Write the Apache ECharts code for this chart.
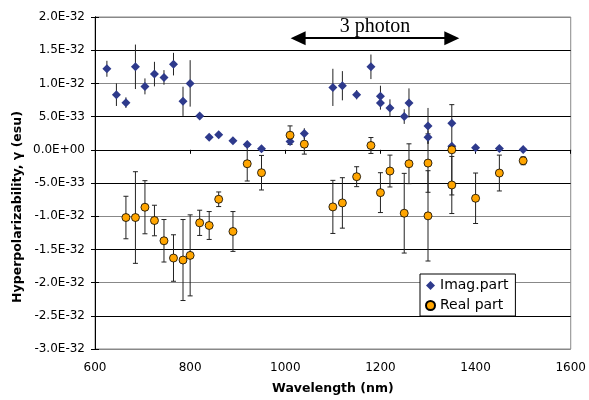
<!DOCTYPE html>
<html>
<head>
<meta charset="utf-8">
<script src="https://cdn.jsdelivr.net/npm/echarts@6/dist/echarts.min.js"></script>
<style>html,body{margin:0;padding:0;background:#fff}#c{width:589px;height:400px}</style>
</head>
<body>
<div id="c"></div>
<script>
// Values in units of 1e-33 esu
const imagX   = [625, 645, 665, 685, 705, 725, 745, 765, 785, 800, 820, 840, 860, 890, 920, 950, 1010, 1040, 1100, 1120, 1150, 1180, 1200, 1200, 1220, 1250, 1260, 1300, 1300, 1350, 1350, 1400, 1450, 1500];
const imagY   = [12.2, 8.3, 7.1, 12.5, 9.55, 11.4, 10.9, 12.9, 7.3, 10.0, 5.1, 1.9, 2.25, 1.35, 0.8, 0.15, 1.25, 2.45, 9.4, 9.65, 8.3, 12.5, 8.05, 7.05, 6.3, 5.0, 7.05, 3.6, 1.9, 4.0, 0.55, 0.3, 0.2, 0.05];
const imagErr = [1.2, 1.7, 0.8, 3.35, 1.2, 1.85, 1.1, 1.7, 2.2, 3.5, 0, 0, 0, 0, 0, 0, 0.4, 0.8, 2.8, 2.2, 0.7, 1.85, 1.6, 1.0, 1.3, 1.1, 2.2, 2.7, 1.0, 0, 0.5, 0, 0, 0];

const realX   = [665, 685, 705, 725, 745, 765, 785, 800, 820, 840, 860, 890, 920, 950, 1010, 1040, 1100, 1120, 1150, 1180, 1200, 1220, 1250, 1260, 1300, 1300, 1350, 1350, 1400, 1450, 1500];
const realY   = [-10.2, -10.2, -8.65, -10.65, -13.7, -16.3, -16.6, -15.9, -11.0, -11.4, -7.45, -12.3, -2.1, -3.45, 2.2, 0.85, -8.6, -8.0, -4.05, 0.65, -6.45, -3.2, -9.55, -2.1, -2.0, -9.95, 0.0, -5.3, -7.3, -3.5, -1.65];
const realErr = [3.2, 6.9, 4.0, 2.3, 3.2, 3.5, 6.1, 6.1, 1.9, 2.1, 1.1, 3.0, 2.6, 2.6, 1.4, 1.5, 4.0, 3.8, 1.5, 1.2, 3.0, 2.4, 6.0, 3.0, 4.4, 6.8, 6.8, 4.3, 3.8, 2.7, 0.6];

const seriesNames = ['Imag.part', 'Real part'];
const xTicks = {min: 600, max: 1600, step: 200};
const yTicks = {min: -30, max: 20, step: 5};   // x 1e-33
const arrowSpan = [1027, 1350];
const arrowLevel = 16.8;
const arrowText = '3 photon';
const xTitle = 'Wavelength (nm)';
const yTitle = 'Hyperpolarizability, \u03b3 (esu)';

function fmtE(v) {
  const s = (v * 1e-33).toExponential(1).toUpperCase();
  const [m, e] = s.split('E');
  const sign = e[0] === '-' ? '-' : '+';
  const digits = e.replace(/[+-]/, '').padStart(2, '0');
  return m + 'E' + sign + digits;
}

function errData(xs, ys, es) {
  const out = [];
  xs.forEach((x, i) => { if (es[i] > 0) out.push([x, ys[i] - es[i], ys[i] + es[i]]); });
  return out;
}

function errRender(cap) {
  return function (params, api) {
    const x = api.value(0), lo = api.value(1), hi = api.value(2);
    const a = api.coord([x, hi]), b = api.coord([x, lo]);
    const st = {stroke: '#222', lineWidth: 1};
    const ch = [{type: 'line', shape: {x1: a[0], y1: a[1], x2: b[0], y2: b[1]}, style: st}];
    if (cap) {
      ch.push({type: 'line', shape: {x1: a[0] - 2.5, y1: a[1], x2: a[0] + 2.5, y2: a[1]}, style: st});
      ch.push({type: 'line', shape: {x1: b[0] - 2.5, y1: b[1], x2: b[0] + 2.5, y2: b[1]}, style: st});
    }
    return {type: 'group', children: ch};
  };
}

const font = 'DejaVu Sans';
const chart = echarts.init(document.getElementById('c'), null, {renderer: 'canvas'});
chart.setOption({
  animation: false,
  backgroundColor: '#fff',
  grid: {left: 95, right: 17, top: 17, bottom: 48, show: true, borderColor: '#888', borderWidth: 1},
  xAxis: {
    type: 'value', min: xTicks.min, max: xTicks.max, interval: xTicks.step,
    name: xTitle, nameLocation: 'middle', nameGap: 33,
    nameTextStyle: {fontFamily: font, fontSize: 12.5, fontWeight: 'bold', color: '#000'},
    axisLine: {show: true, lineStyle: {color: '#000', width: 1}},
    axisTick: {show: true, inside: false, length: 4, lineStyle: {color: '#000'}},
    axisLabel: {fontFamily: font, fontSize: 12, color: '#000', margin: 13, formatter: v => String(v)},
    splitLine: {show: false}
  },
  yAxis: [{
    type: 'value', min: yTicks.min, max: yTicks.max, interval: yTicks.step,
    axisLine: {show: true, lineStyle: {color: '#000', width: 1}},
    axisTick: {show: true, inside: false, length: 4, lineStyle: {color: '#000'}},
    axisLabel: {fontFamily: font, fontSize: 12, color: '#000', margin: 10, formatter: fmtE},
    splitLine: {show: true, lineStyle: {color: ['#888', '#000'], width: 1}}
  }, {
    type: 'value', min: yTicks.min, max: yTicks.max, interval: yTicks.step, position: 'left',
    axisLine: {show: true, lineStyle: {color: '#000', width: 1}},
    axisTick: {show: true, inside: true, length: 4, lineStyle: {color: '#000'}},
    axisLabel: {show: false},
    splitLine: {show: false}
  }],
  legend: {
    data: [
      {name: seriesNames[0], icon: 'diamond'},
      {name: seriesNames[1], icon: 'circle'}
    ],
    orient: 'vertical', left: 420, top: 274,
    itemWidth: 9, itemHeight: 9, itemGap: 5,
    padding: [4, 7, 3, 5],
    backgroundColor: '#fff', borderColor: '#000', borderWidth: 1, borderRadius: 0,
    textStyle: {fontFamily: font, fontSize: 14, color: '#000', lineHeight: 15}
  },
  graphic: [{
    type: 'text', x: 18, y: 207, rotation: Math.PI / 2,
    style: {text: yTitle, fontFamily: font, fontSize: 12.5, fontWeight: 'bold', fill: '#000', align: 'center', verticalAlign: 'middle'}
  }],
  series: [
    {
      type: 'custom', name: 'imagErr', renderItem: errRender(false), silent: true, z: 1,
      encode: {x: 0, y: [1, 2]}, data: errData(imagX, imagY, imagErr)
    },
    {
      type: 'custom', name: 'realErr', renderItem: errRender(true), silent: true, z: 1,
      encode: {x: 0, y: [1, 2]}, data: errData(realX, realY, realErr)
    },
    {
      type: 'scatter', name: seriesNames[0], symbol: 'diamond', symbolSize: 9, z: 3,
      itemStyle: {color: '#2E3A8C', opacity: 1},
      data: imagX.map((x, i) => [x, imagY[i]]),
      markLine: {
        silent: true, animation: false,
        symbol: ['triangle', 'triangle'], symbolSize: [14, 15],
        lineStyle: {color: '#000', width: 2, type: 'solid'},
        label: {show: true, position: 'middle', formatter: arrowText, fontFamily: 'Liberation Serif', fontSize: 20, color: '#000', distance: 1},
        data: [[{coord: [arrowSpan[0], arrowLevel]}, {coord: [arrowSpan[1], arrowLevel]}]]
      }
    },
    {
      type: 'scatter', name: seriesNames[1], symbol: 'circle', symbolSize: 8, z: 4,
      itemStyle: {color: '#FFA500', borderColor: '#000', borderWidth: 0.8, opacity: 1},
      data: realX.map((x, i) => [x, realY[i]])
    }
  ]
});
</script>
</body>
</html>
